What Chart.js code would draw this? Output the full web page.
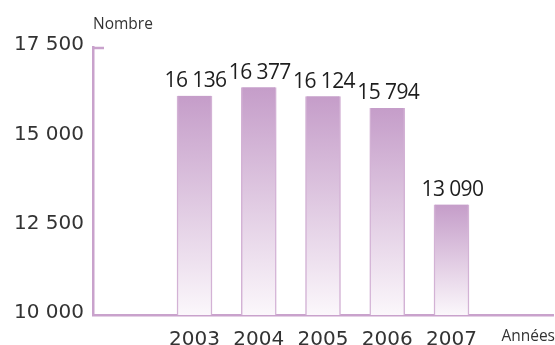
<!DOCTYPE html>
<html>
<head>
<meta charset="utf-8">
<script src="https://cdn.jsdelivr.net/npm/chart.js@4/dist/chart.umd.min.js"></script>
<style>
  html, body { margin: 0; padding: 0; background: #fff; }
  #wrap { width: 555px; height: 345px; position: relative; }
</style>
</head>
<body>
<div id="wrap"><canvas id="c"></canvas></div>
<script>
// data
const years = [2003, 2004, 2005, 2006, 2007];
const counts = [16136, 16377, 16124, 15794, 13090];
const yTicks = [10000, 12500, 15000, 17500];

const purple = '#c9a2cc';

function fmtFr(n) {
  return String(n).replace(/\B(?=(\d{3})+(?!\d))/g, ' ');
}

function barGradient(ctx) {
  const chart = ctx.chart;
  const area = chart.chartArea;
  if (!area || ctx.parsed === undefined) return '#d8bcd9';
  const y = chart.scales.y;
  const top = y.getPixelForValue(ctx.parsed.y);
  const g = chart.ctx.createLinearGradient(0, top, 0, y.bottom);
  g.addColorStop(0, '#c59dc9');
  g.addColorStop(1, '#fbf7fb');
  return g;
}

// value labels + axis captions
const decor = {
  id: 'decor',
  afterDatasetsDraw(chart) {
    const c = chart.ctx;
    const meta = chart.getDatasetMeta(0);
    c.save();
    c.fillStyle = '#1e1e1e';
    c.font = '500 21px "Open Sans"';
    c.letterSpacing = '-0.6px';
    c.textAlign = 'center';
    c.textBaseline = 'bottom';
    meta.data.forEach(function(bar, i) {
      c.fillText(fmtFr(counts[i]), bar.x + 1, bar.y - 4);
    });
    c.letterSpacing = '0px';
    // small cap tick at top of y axis
    const ys = chart.scales.y;
    c.strokeStyle = purple;
    c.lineWidth = 2.5;
    c.beginPath();
    c.moveTo(ys.right - 1, ys.top + 1);
    c.lineTo(ys.right + 11, ys.top + 1);
    c.stroke();
    c.fillStyle = '#333';
    c.font = '15.5px "Open Sans"';
    c.textAlign = 'left';
    c.textBaseline = 'middle';
    c.fillText('Nombre', ys.right, ys.top - 22);
    const xs = chart.scales.x;
    c.textAlign = 'right';
    c.fillText('Années', xs.right + 2, xs.top + 22);
    c.restore();
  }
};

new Chart(document.getElementById('c'), {
  type: 'bar',
  data: {
    datasets: [{
      data: years.map(function(y, i) { return { x: y, y: counts[i] }; }),
      backgroundColor: barGradient,
      borderColor: '#d3b2d5',
      borderWidth: { left: 1.5, right: 1.5, top: 0, bottom: 0 },
      borderSkipped: false,
      barThickness: 35
    }]
  },
  options: {
    responsive: true,
    maintainAspectRatio: false,
    animation: false,
    layout: { padding: { top: 47, right: 2, left: 0, bottom: 0 } },
    plugins: { legend: { display: false }, tooltip: { enabled: false } },
    scales: {
      x: {
        type: 'linear',
        offset: false,
        min: 2001.42,
        max: 2008.58,
        afterBuildTicks: function(s) { s.ticks = years.map(function(v) { return { value: v }; }); },
        afterFit: function(s) { s.height = 30; },
        grid: { display: false, drawTicks: false },
        border: { color: purple, width: 2.5 },
        ticks: {
          autoSkip: false,
          maxRotation: 0,
          padding: 13,
          color: '#333',
          font: { family: 'DejaVu Sans', size: 20 },
          callback: function(v) { return String(v); }
        }
      },
      y: {
        min: 10000,
        max: 17500,
        afterBuildTicks: function(s) { s.ticks = yTicks.map(function(v) { return { value: v }; }); },
        afterFit: function(s) { s.width = 93; },
        grid: { display: false, drawTicks: false },
        border: { color: purple, width: 2.5 },
        ticks: {
          padding: 9,
          labelOffset: -2,
          color: '#333',
          font: { family: 'DejaVu Sans', size: 20 },
          callback: function(v) { return fmtFr(v); }
        }
      }
    }
  },
  plugins: [decor]
});
</script>
</body>
</html>
